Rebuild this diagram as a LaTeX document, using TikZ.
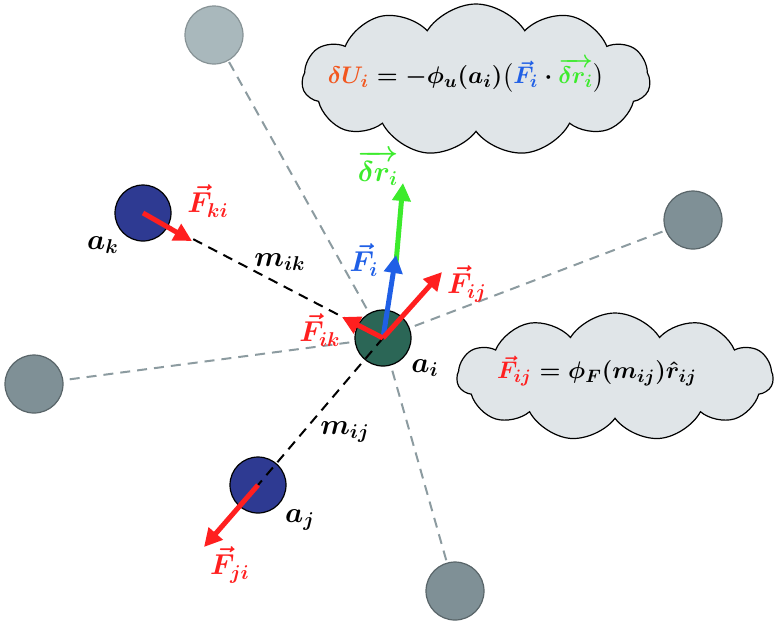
\documentclass[tikz,border=0pt]{standalone}
\usepackage{amsmath}
\usepackage{xcolor}
\usetikzlibrary{arrows.meta, shapes.symbols}
\definecolor{forcered}{HTML}{FF1F1F}
\definecolor{forceblue}{HTML}{1F5FE6}
\definecolor{moveGreen}{HTML}{3CEB2C}
\definecolor{energyOrange}{HTML}{F2571F}
\definecolor{centreGreen}{HTML}{2B6656}
\definecolor{nbBlue}{HTML}{2E3A92}
\definecolor{farGray}{HTML}{7F9096}
\definecolor{farLight}{HTML}{A9B8BC}
\definecolor{cloudFill}{HTML}{E0E5E8}

\begin{document}
\begin{tikzpicture}[x=0.5pt, y=-0.5pt,
    atom/.style={circle, draw=black, line width=0.6pt, minimum size=28pt, inner sep=0pt},
    far/.style={circle, draw=farGray!70!black, fill=farGray, line width=0.6pt, minimum size=29pt, inner sep=0pt},
    farlink/.style={draw=farGray!90, line width=1pt, dash pattern=on 5pt off 3.5pt},
    bond/.style={draw=black, line width=1pt, dash pattern=on 5pt off 3.5pt},
    force/.style={-{Triangle[length=9pt, width=9pt]}, line width=2.5pt},
    lbl/.style={font=\fontsize{14}{16}\selectfont\boldmath, inner sep=1pt},
    eqn/.style={font=\fontsize{12.5}{15}\selectfont\boldmath, inner sep=1pt},
    thought/.style={cloud, cloud puffs=11, cloud puff arc=115, cloud ignores aspect, draw=black,
        line width=0.6pt, fill=cloudFill, inner sep=0pt}]
    \useasboundingbox (0,0) rectangle (774,629);

    % speech clouds
    \node[thought, minimum width=174pt, minimum height=76pt] (cloudU) at (476,80) {};
    \node[thought, minimum width=158pt, minimum height=64pt] (cloudF) at (615,377) {};
    \node[eqn] (eqU) at (466,75) {$\color{energyOrange}\delta U_i \color{black}= -\phi_u(a_i)\bigl(\color{forceblue}\vec{F}_i\color{black}\cdot\color{moveGreen}\overrightarrow{\delta r_i}\color{black}\bigr)$};
    \node[eqn] (eqF) at (597,371) {$\color{forcered}\vec{F}_{ij}\color{black} = \phi_F(m_{ij})\hat{r}_{ij}$};

    % atoms
    \coordinate (c) at (383,338);
    \node[far, fill=farLight, draw=farLight!80!black] (g1) at (214,35) {};
    \node[far] (g2) at (693,220) {};
    \node[far] (g3) at (34,384) {};
    \node[far] (g4) at (455,591) {};
    \foreach \g in {g1,g2,g3,g4}
        \path[farlink] (c) -- (\g);
    \node[atom, fill=centreGreen] (ai) at (c) {};
    \node[atom, fill=nbBlue] (ak) at (143,213) {};
    \node[atom, fill=nbBlue] (aj) at (258,485) {};
    \path[bond] (ai.center) -- (ak.center);
    \path[bond] (ai.center) -- (aj.center);

    % forces
    \coordinate (tipKi) at (192,241);
    \coordinate (tipJi) at (204,547);
    \coordinate (tipIj) at (442,272);
    \coordinate (tipIk) at (342,317);
    \coordinate (tipI) at (396,255);
    \coordinate (tipR) at (403,183);
    \draw[force, moveGreen] (tipI) ++(0,8) -- (tipR);
    \draw[force, forceblue] (ai.center) -- (tipI);
    \draw[force, forcered] (ai.center) -- (tipIj);
    \draw[force, forcered, line join=miter] (ai.center) -- (tipIk);
    \draw[force, forcered] (ak.center) -- (tipKi);
    \draw[force, forcered] (aj.center) -- (tipJi);

    % labels
    \node[lbl, forcered] (lKi) at (208,201) {$\vec{F}_{ki}$};
    \node[lbl] (lak) at (103,245) {$a_k$};
    \node[lbl] (lmik) at (280,262) {$m_{ik}$};
    \node[lbl, moveGreen] (ldr) at (378,168) {$\overrightarrow{\delta r_i}$};
    \node[lbl, forceblue] (lFi) at (364,260) {$\vec{F}_i$};
    \node[lbl, forcered] (lIj) at (467,284) {$\vec{F}_{ij}$};
    \node[lbl, forcered] (lIk) at (320,330) {$\vec{F}_{ik}$};
    \node[lbl] (lai) at (425,368) {$a_i$};
    \node[lbl] (lmij) at (345,432) {$m_{ij}$};
    \node[lbl] (laj) at (300,520) {$a_j$};
    \node[lbl, forcered] (lJi) at (230,565) {$\vec{F}_{ji}$};
\end{tikzpicture}
\end{document}
